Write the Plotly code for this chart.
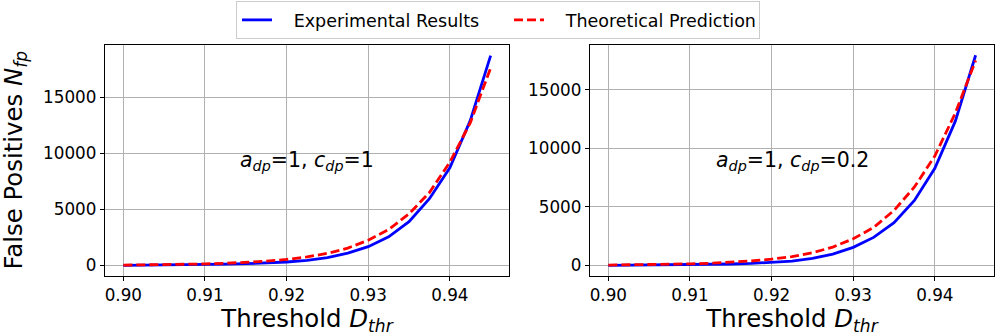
import plotly.graph_objects as go
from plotly.subplots import make_subplots

thresholds = [0.9, 0.9025, 0.905, 0.9075, 0.91, 0.9125, 0.915, 0.9175, 0.92, 0.9225,
              0.925, 0.9275, 0.93, 0.9325, 0.935, 0.9375, 0.94, 0.9425, 0.945]

exp_left = [20, 30, 45, 65, 90, 120, 160, 220, 310, 460,
            700, 1100, 1680, 2550, 3900, 5950, 8700, 12900, 18700]
theo_left = [35, 50, 70, 100, 140, 195, 275, 385, 540, 760,
             1080, 1550, 2250, 3200, 4600, 6500, 9200, 12700, 17600]

exp_right = [15, 25, 35, 50, 70, 95, 130, 180, 260, 380,
             600, 980, 1550, 2400, 3650, 5550, 8300, 12300, 17950]
theo_right = [35, 50, 70, 100, 140, 195, 275, 385, 540, 765,
              1090, 1570, 2280, 3250, 4700, 6700, 9350, 13000, 17500]

panel_labels = ["<i>a</i><sub><i>dp</i></sub>=1, <i>c</i><sub><i>dp</i></sub>=1",
                "<i>a</i><sub><i>dp</i></sub>=1, <i>c</i><sub><i>dp</i></sub>=0.2"]
x_ticks = [0.90, 0.91, 0.92, 0.93, 0.94]
x_tick_text = ["0.90", "0.91", "0.92", "0.93", "0.94"]
y_ticks = [0, 5000, 10000, 15000]
y_tick_text = ["0", "5000", "10000", "15000"]
series_names = ["Experimental Results", "Theoretical Prediction"]

FONT = "DejaVu Sans"
W, H = 997, 336
ML, MR, MT, MB = 105, 3, 45, 60
pw = W - ML - MR
ph = H - MT - MB
PAD = "\u00a0\u00a0\u00a0"

fig = make_subplots(rows=1, cols=2, horizontal_spacing=0.05)

for col, (e, t) in enumerate([(exp_left, theo_left), (exp_right, theo_right)], start=1):
    fig.add_trace(go.Scatter(x=thresholds, y=e, mode="lines", name=PAD + series_names[0],
                             legendwidth=227,
                             line=dict(color="#0000ff", width=2.8), showlegend=(col == 1)),
                  row=1, col=col)
    fig.add_trace(go.Scatter(x=thresholds, y=t, mode="lines", name=PAD + series_names[1],
                             legendwidth=205,
                             line=dict(color="#ff0000", width=2.8, dash="9px,4px"),
                             showlegend=(col == 1)),
                  row=1, col=col)

axis_common = dict(showline=True, linecolor="black", linewidth=1.3, mirror=True,
                   showgrid=True, gridcolor="#b0b0b0", gridwidth=1.1,
                   ticks="outside", ticklen=4, tickwidth=1, tickcolor="black",
                   tickfont=dict(family=FONT, size=16.8, color="black"), zeroline=False)

xtitle = dict(text="Threshold <i>D</i><sub><i>thr</i></sub>",
              font=dict(family=FONT, size=24.4, color="black"), standoff=3)

d1 = (509 - ML) / pw
d2 = (590 - ML) / pw
fig.update_layout(
    xaxis=dict(domain=[0, d1], range=[0.89775, 0.94725], tickvals=x_ticks, ticktext=x_tick_text,
               title=xtitle, **axis_common),
    xaxis2=dict(domain=[d2, 1], range=[0.89775, 0.94725], tickvals=x_ticks, ticktext=x_tick_text,
                title=xtitle, **axis_common),
    yaxis=dict(range=[-935, 19640], tickvals=y_ticks, ticktext=y_tick_text, **axis_common),
    yaxis2=dict(range=[-896, 18825], tickvals=y_ticks, ticktext=y_tick_text, **axis_common),
)

# y-axis title placed as a rotated annotation
fig.add_annotation(text="False Positives <i>N</i><sub><i>fp</i></sub>",
                   x=(14 - ML) / pw, xref="paper", xanchor="center",
                   y=0.5, yref="y domain", yanchor="middle",
                   textangle=-90, showarrow=False,
                   font=dict(family=FONT, size=24.4, color="black"))

for i, lab in enumerate(panel_labels):
    xr = "x domain" if i == 0 else "x2 domain"
    yr = "y domain" if i == 0 else "y2 domain"
    fig.add_annotation(text=lab, x=0.5, y=0.5, xref=xr, yref=yr, showarrow=False,
                       xanchor="center", yanchor="middle",
                       font=dict(family=FONT, size=20.5, color="black"))

fig.update_layout(
    width=W, height=H,
    margin=dict(l=ML, r=MR, t=MT, b=MB, autoexpand=False),
    paper_bgcolor="white", plot_bgcolor="white",
    font=dict(family=FONT, color="black"),
    legend=dict(orientation="h", x=(236 - ML) / pw, xanchor="left",
                y=1 + (MT - 1) / ph, yanchor="top",
                bordercolor="#cccccc", borderwidth=1, bgcolor="white",
                font=dict(family=FONT, size=17.5, color="black")),
)

fig.write_html("out.html", config={"displayModeBar": False},
               post_script="document.body.style.margin='0';")
